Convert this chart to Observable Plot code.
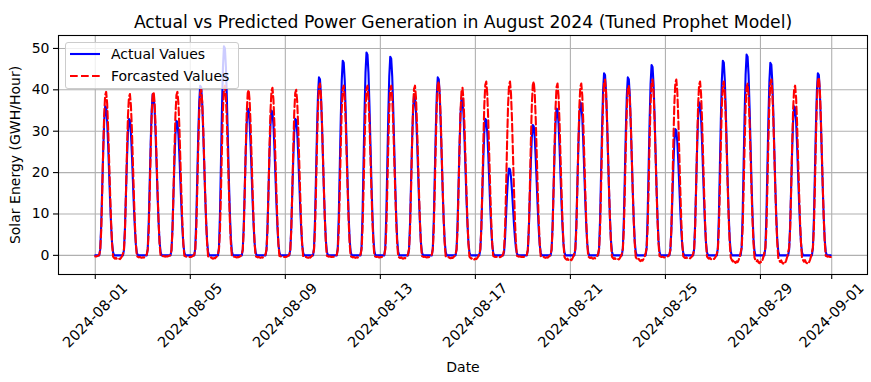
<!DOCTYPE html>
<html><head><meta charset="utf-8">
<script src="https://cdn.jsdelivr.net/npm/d3@7"></script>
<script src="https://cdn.jsdelivr.net/npm/@observablehq/plot@0.6"></script>
<style>
body{margin:0;background:#fff;}
#wrap{position:relative;width:871px;height:382px;font-family:"DejaVu Sans",sans-serif;}
#legend{position:absolute;left:65px;top:42px;width:172px;height:45px;border:1px solid #cccccc;border-radius:3px;background:rgba(255,255,255,0.8);font-size:14px;color:#000;}
.row{position:absolute;left:4px;height:18px;display:flex;align-items:center;}
.row svg{margin-right:11px;}
</style>
</head><body>
<div id="wrap"><div id="chart"></div>
<div id="legend">
 <div class="row" style="top:2px"><svg width="30" height="6"><line x1="0" y1="3" x2="30" y2="3" stroke="#0000ff" stroke-width="2.1"/></svg><span>Actual Values</span></div>
 <div class="row" style="top:24px"><svg width="30" height="6"><line x1="0" y1="3" x2="30" y2="3" stroke="#ff0000" stroke-width="2.1" stroke-dasharray="7.7,3.3"/></svg><span>Forcasted Values</span></div>
</div>
</div>
<script>
const title = "Actual vs Predicted Power Generation in August 2024 (Tuned Prophet Model)";
const yLabel = "Solar Energy (GWH/Hour)";
const xLabel = "Date";
const dayLabels = ["2024-08-01","2024-08-02","2024-08-03","2024-08-04","2024-08-05","2024-08-06","2024-08-07","2024-08-08","2024-08-09","2024-08-10","2024-08-11","2024-08-12","2024-08-13","2024-08-14","2024-08-15","2024-08-16","2024-08-17","2024-08-18","2024-08-19","2024-08-20","2024-08-21","2024-08-22","2024-08-23","2024-08-24","2024-08-25","2024-08-26","2024-08-27","2024-08-28","2024-08-29","2024-08-30","2024-08-31"];
// daily peak readings (GWH/Hour)
const actualPeak   = [36,33,39,32.5,41,50.5,35.5,35,33,43,47,49,48,38.5,43,38,33,21,31.5,35.5,37,44,43,46,30.5,37,47,48.5,46.5,36,44];
const forecastPeak = [39.5,39,39.5,39.5,40,41,40,40.5,40,41.5,41,41,41,41,42,40.5,42,42,42,41.5,41.5,42.5,41,42.5,42.5,42,42,41.5,42.5,41,43];
// forecast night-time dip after each day
const forecastNightMin = [-1.0,-0.6,-0.3,-0.4,-0.8,-0.5,-0.6,-0.4,-0.6,-0.4,-0.6,-0.5,-0.8,-0.5,-0.7,-1.0,-0.5,-0.4,-0.6,-1.3,-0.8,-1.1,-1.4,-0.5,-0.8,-1.0,-1.8,-1.9,-2.0,-1.9,-0.4];
const forecastFirstMorning = -0.3;
// hourly shape of a day (fraction of the day's peak), hours 0..23
const actualProfile   = [0,0,0,0,0,0.04,0.2,0.45,0.7,0.9,1,0.99,0.9,0.74,0.55,0.36,0.2,0.08,0.02,0,0,0,0,0];
const forecastProfile = [0,0,0,0,0,0.03,0.15,0.38,0.64,0.86,0.98,1,0.93,0.78,0.58,0.38,0.2,0.07,0,0,0,0,0,0];
// forecast night wiggle shapes: morning hours 0..5, evening hours 17..23
const morningShape = [0.8,0.9,0.6,0.2,-0.4,-0.3];
const eveningShape = [0,0.3,0.6,0.8,0.6,0.9,1.0];
const xTickLabels = ["2024-08-01","2024-08-05","2024-08-09","2024-08-13","2024-08-17","2024-08-21","2024-08-25","2024-08-29","2024-09-01"];
const yTicks = [0,10,20,30,40,50];

const parse = d3.utcParse("%Y-%m-%d");
const rows = [];
dayLabels.forEach((lab, i) => {
  const d0 = parse(lab);
  for (let h = 0; h < 24; h++) {
    let f = forecastPeak[i] * forecastProfile[h];
    if (h <= 5) f += (i === 0 ? forecastFirstMorning : forecastNightMin[i - 1]) * morningShape[h];
    if (h >= 17) f += forecastNightMin[i] * eveningShape[h - 17];
    rows.push({t: new Date(+d0 + h * 3600e3), actual: actualPeak[i] * actualProfile[h], forecast: f});
  }
});
const xTicks = xTickLabels.map(parse);
const tMin = rows[0].t, tMax = rows[rows.length - 1].t;
const tPad = (tMax - tMin) * 0.05;
const xDomain = [new Date(+tMin - tPad), new Date(+tMax + tPad)];
const allY = rows.flatMap(r => [r.actual, r.forecast]);
const yMin = d3.min(allY), yMax = d3.max(allY), yPad = (yMax - yMin) * 0.05;
const yDomain = [yMin - yPad, yMax + yPad];
const fmt = d3.utcFormat("%Y-%m-%d");

const chart = Plot.plot({
  width: 871, height: 382,
  marginLeft: 58, marginRight: 4, marginTop: 35, marginBottom: 108,
  style: {fontFamily: "DejaVu Sans", fontSize: "14px", background: "white", color: "black", overflow: "visible"},
  x: {type: "utc", domain: xDomain},
  y: {domain: yDomain},
  marks: [
    Plot.gridX(xTicks, {stroke: "#b0b0b0", strokeOpacity: 1, strokeWidth: 1.1}),
    Plot.gridY(yTicks, {stroke: "#b0b0b0", strokeOpacity: 1, strokeWidth: 1.1}),
    Plot.lineY(rows, {x: "t", y: "actual", stroke: "#0000ff", strokeWidth: 2.1}),
    Plot.lineY(rows, {x: "t", y: "forecast", stroke: "#ff0000", strokeWidth: 2.1, strokeDasharray: "7.7,3.3"}),
    Plot.frame({stroke: "black", strokeWidth: 1.1}),
    Plot.axisY(yTicks, {tickSize: 5, tickPadding: 4, label: null, fontSize: 14, strokeWidth: 1.1}),
    Plot.axisX(xTicks, {tickSize: 5, tickFormat: () => "", label: null, strokeWidth: 1.1}),
    Plot.text(xTicks, {x: d => d, text: d => fmt(d), frameAnchor: "bottom", dy: 41, rotate: -45, textAnchor: "middle", lineAnchor: "middle", fontSize: 14.5}),
    Plot.text([title], {text: d => d, frameAnchor: "top", dy: -20, fontSize: 17.2}),
    Plot.text([yLabel], {text: d => d, frameAnchor: "left", dx: -43, rotate: -90, textAnchor: "middle", fontSize: 14}),
    Plot.text([xLabel], {text: d => d, frameAnchor: "bottom", dy: 97, fontSize: 14})
  ]
});
document.getElementById("chart").appendChild(chart);
</script>
</body></html>
